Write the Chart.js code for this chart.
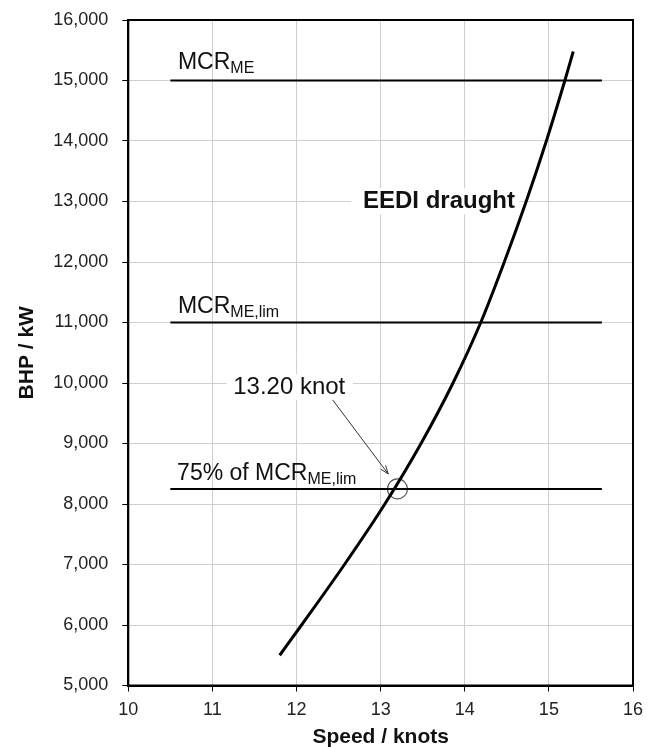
<!DOCTYPE html>
<html>
<head>
<meta charset="utf-8">
<script src="https://cdn.jsdelivr.net/npm/chart.js@4"></script>
<style>
    body { margin: 0; background: #fff; }
    #box { width: 652px; height: 747px; }
</style>
</head>
<body>
<div id="box"><canvas id="bhp_speed"></canvas></div>
<script>
/* EEDI draught power curve */
const speed = [11.8, 12.06, 12.57, 13.05, 13.48, 13.86, 14.19, 14.47, 14.73, 14.97, 15.19, 15.29];
const bhp = [5500, 6000, 7000, 8000, 9000, 10000, 11000, 12000, 13000, 14000, 15000, 15480];

/* reference power levels */
const mcrMe = 15000;
const mcrMeLim = 11000;
const mcr75 = 8250;
const levelSpan = [10.5, 15.63];

/* design point */
const refSpeed = 13.2;
const refPower = 8250;

const fontFamily = "Arial, 'Liberation Sans', Helvetica, sans-serif";

const levelLine = (level) => levelSpan.map(v => ({ x: v, y: level }));

const data_bhp = {
    datasets: [{
        label: 'EEDI draught',
        data: speed.map((v, i) => ({ x: v, y: bhp[i] })),
        showLine: true,
        borderColor: '#000',
        borderWidth: 3,
        pointRadius: 0,
        cubicInterpolationMode: 'monotone'
    }, {
        label: 'MCR ME',
        data: levelLine(mcrMe),
        showLine: true,
        borderColor: '#000',
        borderWidth: 2,
        pointRadius: 0
    }, {
        label: 'MCR ME,lim',
        data: levelLine(mcrMeLim),
        showLine: true,
        borderColor: '#000',
        borderWidth: 2,
        pointRadius: 0
    }, {
        label: '75% of MCR ME,lim',
        data: levelLine(mcr75),
        showLine: true,
        borderColor: '#000',
        borderWidth: 2,
        pointRadius: 0
    }, {
        label: '13.20 knot',
        data: [{ x: refSpeed, y: refPower }],
        showLine: false,
        pointRadius: 10,
        pointBorderWidth: 1.2,
        pointBorderColor: '#555',
        pointBackgroundColor: 'rgba(0,0,0,0)'
    }]
};

function drawSub(ctx, main, sub, px, py, size) {
    ctx.font = size + 'px ' + fontFamily;
    ctx.fillText(main, px, py);
    const w = ctx.measureText(main).width;
    ctx.font = '16px ' + fontFamily;
    ctx.fillText(sub, px + w, py + 4);
}

const chartText = {
    id: 'chartText',
    beforeDatasetsDraw(chart) {
        const { ctx, scales: { x, y } } = chart;
        ctx.save();
        ctx.fillStyle = '#fff';
        // gaps in the grid behind the labels
        ctx.fillRect(x.getPixelForValue(11.17), y.getPixelForValue(9818) - 20, x.getPixelForValue(12.67) - x.getPixelForValue(11.17), 26);
        ctx.fillRect(x.getPixelForValue(12.65), y.getPixelForValue(12888) - 20, x.getPixelForValue(14.65) - x.getPixelForValue(12.65), 26);

        ctx.fillStyle = '#111';
        ctx.textBaseline = 'alphabetic';
        ctx.textAlign = 'left';
        drawSub(ctx, 'MCR', 'ME', x.getPixelForValue(10.59), y.getPixelForValue(15190), 23);
        drawSub(ctx, 'MCR', 'ME,lim', x.getPixelForValue(10.59), y.getPixelForValue(11160), 23);
        drawSub(ctx, '75% of MCR', 'ME,lim', x.getPixelForValue(10.58), y.getPixelForValue(8390), 23);

        ctx.font = '24px ' + fontFamily;
        ctx.fillText('13.20 knot', x.getPixelForValue(11.247), y.getPixelForValue(9818));
        ctx.font = 'bold 24px ' + fontFamily;
        ctx.fillText('EEDI draught', x.getPixelForValue(12.79), y.getPixelForValue(12888));
        ctx.restore();
    },
    afterDraw(chart) {
        const { ctx, chartArea: a, scales: { x, y } } = chart;
        ctx.save();
        // arrow to the design point
        const x0 = x.getPixelForValue(12.43), y0 = y.getPixelForValue(9720);
        const x1 = x.getPixelForValue(13.09), y1 = y.getPixelForValue(8496);
        const ang = Math.atan2(y1 - y0, x1 - x0);
        ctx.strokeStyle = '#333';
        ctx.lineWidth = 1;
        ctx.beginPath();
        ctx.moveTo(x0, y0);
        ctx.lineTo(x1, y1);
        ctx.moveTo(x1 - 9 * Math.cos(ang - 0.35), y1 - 9 * Math.sin(ang - 0.35));
        ctx.lineTo(x1, y1);
        ctx.lineTo(x1 - 9 * Math.cos(ang + 0.35), y1 - 9 * Math.sin(ang + 0.35));
        ctx.stroke();
        // plot frame
        ctx.strokeStyle = '#000';
        ctx.lineWidth = 2;
        ctx.strokeRect(a.left, a.top, a.right - a.left, a.bottom - a.top);
        ctx.restore();
    }
};

const bhp_chart = {
    type: 'scatter',
    data: data_bhp,
    plugins: [chartText],
    options: {
        responsive: true,
        maintainAspectRatio: false,
        animation: false,
        layout: { padding: { left: 0, right: 19, top: 20, bottom: 0 } },
        plugins: {
            legend: { display: false },
            tooltip: { enabled: false }
        },
        scales: {
            x: {
                type: 'linear',
                min: 10,
                max: 16,
                afterFit: (s) => { s.height = 61.5; },
                ticks: {
                    stepSize: 1,
                    padding: 8,
                    color: '#222',
                    font: { size: 18, family: fontFamily }
                },
                grid: { color: '#cfcfcf', tickColor: '#000', tickLength: 6 },
                border: { color: '#000', width: 2 },
                title: {
                    display: true,
                    text: 'Speed / knots',
                    color: '#111',
                    padding: { top: 0, bottom: -3 },
                    font: { size: 21, weight: 'bold', family: fontFamily }
                }
            },
            y: {
                min: 5000,
                max: 16000,
                afterFit: (s) => {
                    s.width = 128.3;
                    s.paddingTop = 0;
                    s.paddingBottom = 0;
                },
                ticks: {
                    stepSize: 1000,
                    padding: 14,
                    color: '#222',
                    font: { size: 18, family: fontFamily },
                    callback: (v) => v.toLocaleString('en-US')
                },
                grid: { color: '#cfcfcf', tickColor: '#000', tickLength: 6 },
                border: { color: '#000', width: 2 },
                title: {
                    display: true,
                    text: 'BHP / kW',
                    color: '#111',
                    padding: { top: 15, bottom: 0 },
                    font: { size: 21, weight: 'bold', family: fontFamily }
                }
            }
        }
    }
};

const bhp_speed = new Chart(
    document.getElementById('bhp_speed'),
    bhp_chart
);
</script>
</body>
</html>
